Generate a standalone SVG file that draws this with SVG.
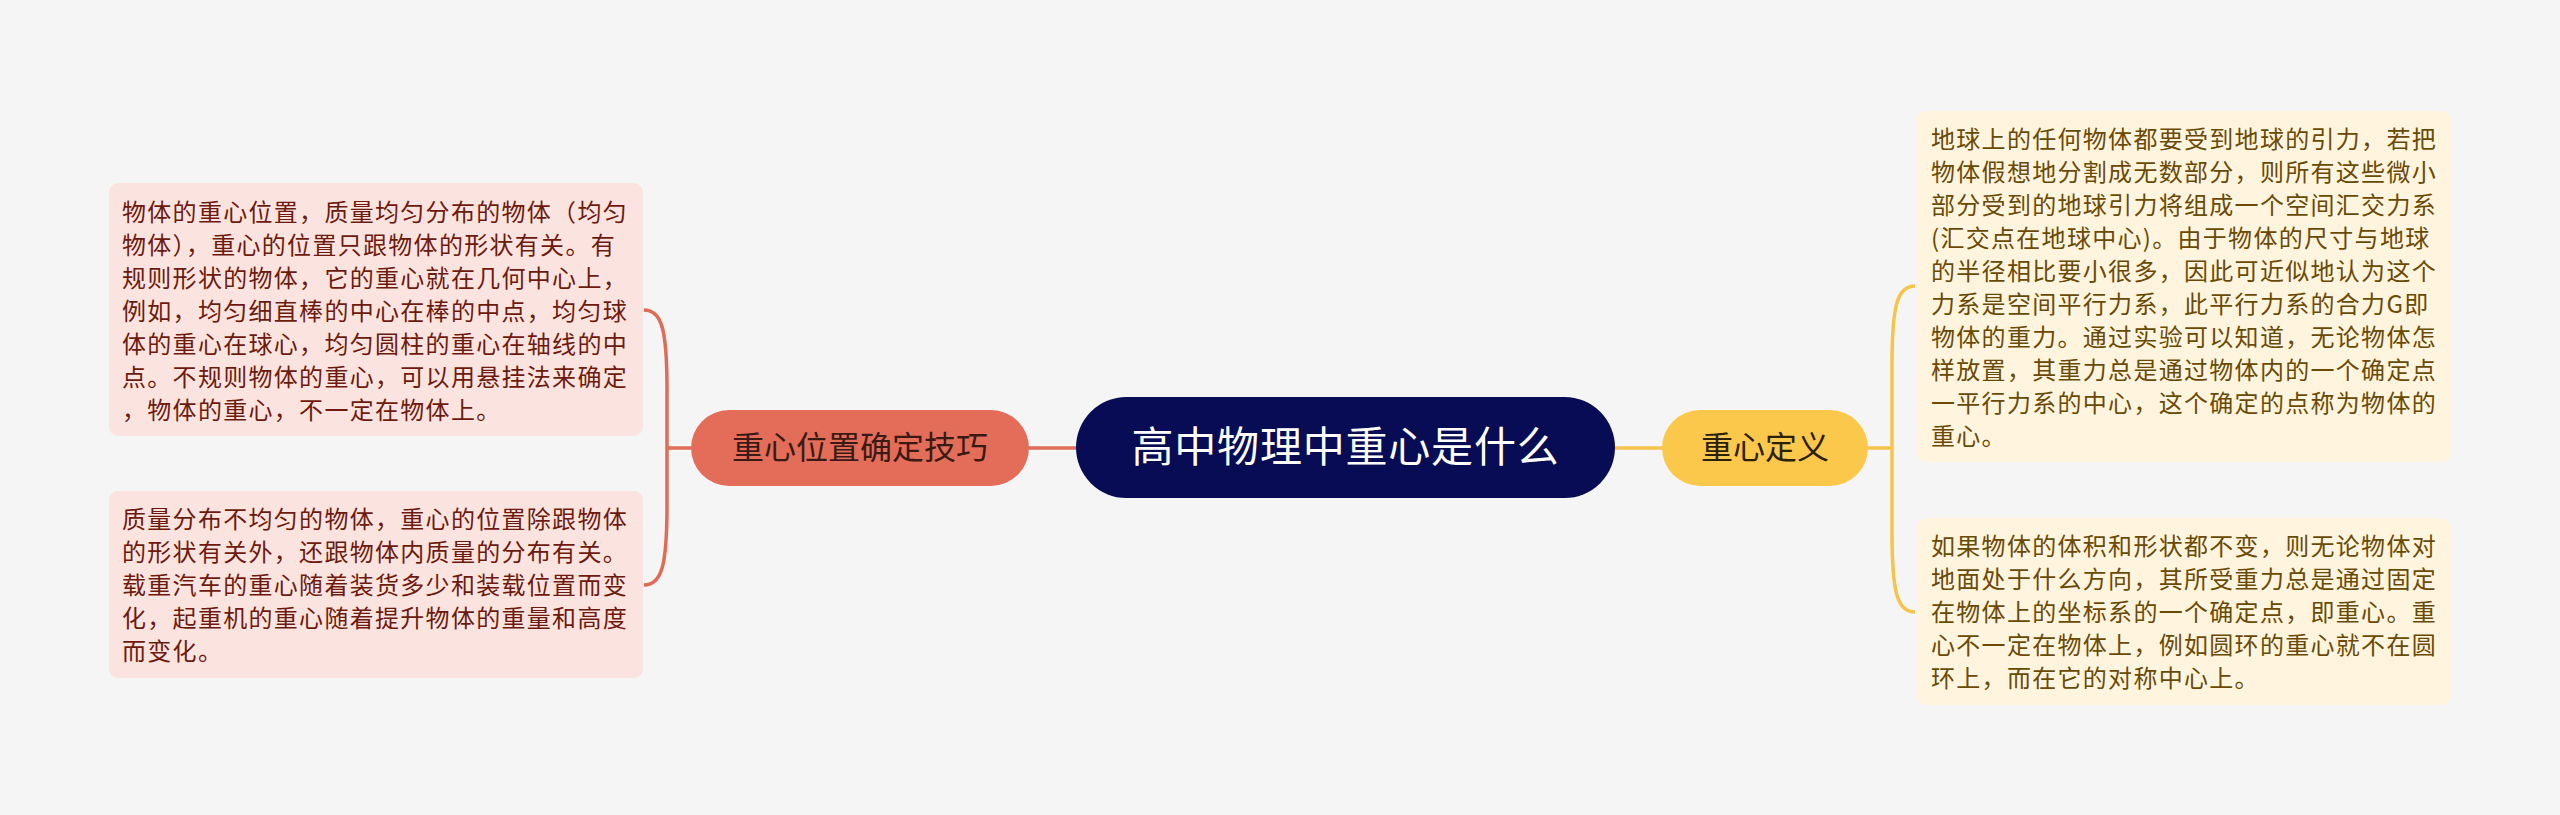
<svg xmlns="http://www.w3.org/2000/svg" width="2560" height="815" viewBox="0 0 2560 815">
<style>
.leaf{font-family:"Noto Sans CJK SC","Noto Sans",sans-serif;font-size:24px;letter-spacing:1.3px}
.lt{fill:#6e1a0e}
.rt{fill:#6b4a05}
.lb{fill:#fbe4df}
.rb{fill:#fff5de}
.br{font-family:"Noto Sans CJK SC","Noto Sans",sans-serif;font-size:32px;text-anchor:middle}
.rc{stroke:#e06c57;stroke-width:3.5;fill:none}
.yc{stroke:#f7c44a;stroke-width:3.5;fill:none}
</style>
<rect width="2560" height="815" fill="#f5f5f5"/>
<g id="connectors">
<path class="rc" d="M1076,448 L1029,448"/>
<path class="rc" d="M691,448 L667,448"/>
<path class="rc" d="M644,310 C662,310 667,330 667,390 L667,505 C667,565 662,585 644,585"/>
<path class="yc" d="M1615,448 L1662,448"/>
<path class="yc" d="M1868,448 L1892,448"/>
<path class="yc" d="M1915,286 C1897,286 1892,306 1892,366 L1892,532 C1892,592 1897,612 1915,612"/>
</g>
<g id="root">
<rect x="1076" y="397" width="539" height="101" rx="50.5" fill="#070c55"/>
<text x="1345.5" y="462" font-family="'Noto Sans CJK SC','Noto Sans',sans-serif" font-size="42" letter-spacing="0.8" text-anchor="middle" fill="#ffffff">高中物理中重心是什么</text>
</g>
<g id="branch-left">
<rect x="691" y="410" width="338" height="76" rx="38" fill="#e36d59"/>
<text class="br" x="860" y="459" fill="#3b1a14">重心位置确定技巧</text>
</g>
<g id="branch-right">
<rect x="1662" y="410" width="206" height="76" rx="38" fill="#fcc84b"/>
<text class="br" x="1765" y="459" fill="#2b2100">重心定义</text>
</g>
<g id="leaf-left-1">
<rect class="lb" x="109" y="183" width="534" height="253" rx="9"/>
<text class="leaf lt">
<tspan x="122" y="221">物体的重心位置，质量均匀分布的物体（均匀</tspan>
<tspan x="122" y="254">物体），重心的位置只跟物体的形状有关。有</tspan>
<tspan x="122" y="287">规则形状的物体，它的重心就在几何中心上，</tspan>
<tspan x="122" y="320">例如，均匀细直棒的中心在棒的中点，均匀球</tspan>
<tspan x="122" y="353">体的重心在球心，均匀圆柱的重心在轴线的中</tspan>
<tspan x="122" y="386">点。不规则物体的重心，可以用悬挂法来确定</tspan>
<tspan x="122" y="419">，物体的重心，不一定在物体上。</tspan>
</text>
</g>
<g id="leaf-left-2">
<rect class="lb" x="109" y="491" width="534" height="187" rx="9"/>
<text class="leaf lt">
<tspan x="122" y="528">质量分布不均匀的物体，重心的位置除跟物体</tspan>
<tspan x="122" y="561">的形状有关外，还跟物体内质量的分布有关。</tspan>
<tspan x="122" y="594">载重汽车的重心随着装货多少和装载位置而变</tspan>
<tspan x="122" y="627">化，起重机的重心随着提升物体的重量和高度</tspan>
<tspan x="122" y="660">而变化。</tspan>
</text>
</g>
<g id="leaf-right-1">
<rect class="rb" x="1917" y="111" width="534" height="351" rx="9"/>
<text class="leaf rt">
<tspan x="1931" y="148">地球上的任何物体都要受到地球的引力，若把</tspan>
<tspan x="1931" y="181">物体假想地分割成无数部分，则所有这些微小</tspan>
<tspan x="1931" y="214">部分受到的地球引力将组成一个空间汇交力系</tspan>
<tspan x="1931" y="247">(汇交点在地球中心)。由于物体的尺寸与地球</tspan>
<tspan x="1931" y="280">的半径相比要小很多，因此可近似地认为这个</tspan>
<tspan x="1931" y="313">力系是空间平行力系，此平行力系的合力G即</tspan>
<tspan x="1931" y="346">物体的重力。通过实验可以知道，无论物体怎</tspan>
<tspan x="1931" y="379">样放置，其重力总是通过物体内的一个确定点</tspan>
<tspan x="1931" y="412">一平行力系的中心，这个确定的点称为物体的</tspan>
<tspan x="1931" y="445">重心。</tspan>
</text>
</g>
<g id="leaf-right-2">
<rect class="rb" x="1917" y="518" width="534" height="187" rx="9"/>
<text class="leaf rt">
<tspan x="1931" y="555">如果物体的体积和形状都不变，则无论物体对</tspan>
<tspan x="1931" y="588">地面处于什么方向，其所受重力总是通过固定</tspan>
<tspan x="1931" y="621">在物体上的坐标系的一个确定点，即重心。重</tspan>
<tspan x="1931" y="654">心不一定在物体上，例如圆环的重心就不在圆</tspan>
<tspan x="1931" y="687">环上，而在它的对称中心上。</tspan>
</text>
</g>
</svg>
